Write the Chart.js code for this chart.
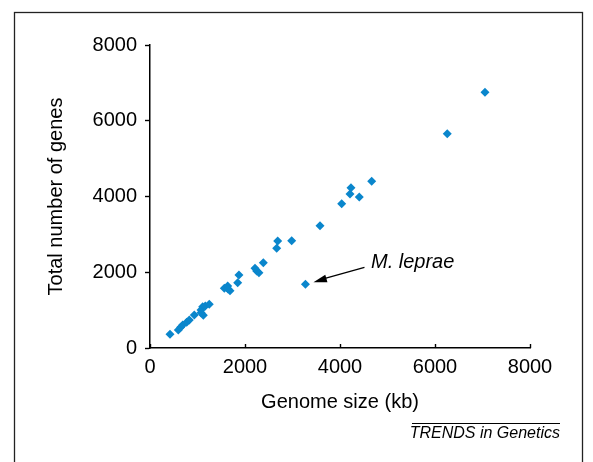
<!DOCTYPE html>
<html>
<head>
<meta charset="utf-8">
<script src="https://cdn.jsdelivr.net/npm/chart.js@4"></script>
<style>
  html, body { margin: 0; padding: 0; background: #fff; }
  #wrap { width: 593px; height: 462px; }
</style>
</head>
<body>
<div id="wrap"><canvas id="genes" width="593" height="462"></canvas></div>
<script>
// genome size (kb) vs total gene count
const genomeSize = [421, 596, 646, 688, 773, 827, 933, 1074, 1109, 1122, 1164, 1248, 1074,
  1564, 1636, 1684, 1642, 1846, 1873, 2210, 2246, 2294, 2385, 2667, 2688, 2983,
  3579, 4035, 4210, 4231, 4406, 4667, 6258, 7052];
const geneCount = [362, 475, 546, 607, 678, 739, 871, 1003, 1090, 863, 1109, 1154, 932,
  1576, 1637, 1513, 1558, 1724, 1927, 2104, 2033, 1988, 2252, 2632, 2825, 2833,
  3229, 3810, 4066, 4232, 3986, 4401, 5658, 6750];
const lepraeSize = 3273;
const lepraeGenes = 1682;
const xTicks = [0, 2000, 4000, 6000, 8000];
const yTicks = [0, 2000, 4000, 6000, 8000];

const points = genomeSize.map((x, i) => ({ x: x, y: geneCount[i] }));
points.push({ x: lepraeSize, y: lepraeGenes });

const FONT = '"Liberation Sans", Arial, Helvetica, sans-serif';

const extras = {
  id: 'extras',
  afterDraw(chart) {
    const c = chart.ctx;
    const xs = chart.scales.x, ys = chart.scales.y;
    c.save();
    // outer frame
    c.strokeStyle = '#222';
    c.lineWidth = 1.3;
    c.strokeRect(14.5, 12.5, 568, 470);

    // small inward ticks on the x axis
    c.strokeStyle = '#000';
    c.lineWidth = 1.4;
    xTicks.forEach(v => {
      const px = Math.round(xs.getPixelForValue(v)) + 0.5;
      c.beginPath();
      c.moveTo(px, ys.bottom);
      c.lineTo(px, ys.bottom - 4);
      c.stroke();
    });

    // M. leprae label + arrow
    const tx = xs.getPixelForValue(lepraeSize) + 8;
    const ty = ys.getPixelForValue(lepraeGenes) - 2;
    const sx = tx + 51, sy = ty - 15;
    c.fillStyle = '#000';
    c.lineWidth = 1.3;
    c.beginPath();
    c.moveTo(sx, sy);
    c.lineTo(tx + 8, ty - 3);
    c.stroke();
    const ang = Math.atan2(ty - sy, tx - sx);
    c.beginPath();
    c.moveTo(tx, ty);
    c.lineTo(tx - 14 * Math.cos(ang - 0.28), ty - 14 * Math.sin(ang - 0.28));
    c.lineTo(tx - 14 * Math.cos(ang + 0.28), ty - 14 * Math.sin(ang + 0.28));
    c.closePath();
    c.fill();
    c.font = 'italic 20px ' + FONT;
    c.textBaseline = 'middle';
    c.textAlign = 'left';
    c.fillText('M. leprae', 371, 262);

    // journal credit
    c.font = 'italic 16px ' + FONT;
    c.textAlign = 'right';
    c.fillText('TRENDS in Genetics', 560, 434);
    c.beginPath();
    c.lineWidth = 1;
    c.moveTo(412, 423.5);
    c.lineTo(560, 423.5);
    c.stroke();
    c.restore();
  }
};

new Chart(document.getElementById('genes'), {
  type: 'scatter',
  data: {
    datasets: [{
      label: 'Genomes',
      data: points,
      pointStyle: 'rectRot',
      pointRadius: 4.5,
      pointBackgroundColor: '#0a86cc',
      pointBorderColor: '#0a86cc',
      pointBorderWidth: 0
    }]
  },
  options: {
    responsive: false,
    animation: false,
    layout: { padding: { left: 44, right: 63, top: 45, bottom: 48 } },
    plugins: { legend: { display: false }, tooltip: { enabled: false } },
    scales: {
      x: {
        type: 'linear',
        min: 0, max: 8000,
        afterFit(s) { s.height = 66; },
        afterBuildTicks(s) { s.ticks = xTicks.map(v => ({ value: v })); },
        border: { color: '#000', width: 1.5 },
        grid: { drawOnChartArea: false, tickLength: 0 },
        ticks: { color: '#000', padding: 7, font: { family: FONT, size: 20 }, maxRotation: 0,
          callback: v => String(v) },
        title: { display: true, text: 'Genome size (kb)', color: '#000',
          font: { family: FONT, size: 20 }, padding: 0 }
      },
      y: {
        type: 'linear',
        min: 0, max: 8000,
        afterFit(s) { s.width = 106; },
        afterBuildTicks(s) { s.ticks = yTicks.map(v => ({ value: v })); },
        border: { color: '#000', width: 1.5 },
        grid: { drawOnChartArea: false, tickLength: 5, color: '#000', tickWidth: 1.4 },
        ticks: { color: '#000', padding: 8, font: { family: FONT, size: 20 },
          callback: v => String(v) },
        title: { display: true, text: 'Total number of genes', color: '#000',
          font: { family: FONT, size: 20 }, padding: 0 }
      }
    }
  },
  plugins: [extras]
});
</script>
</body>
</html>
